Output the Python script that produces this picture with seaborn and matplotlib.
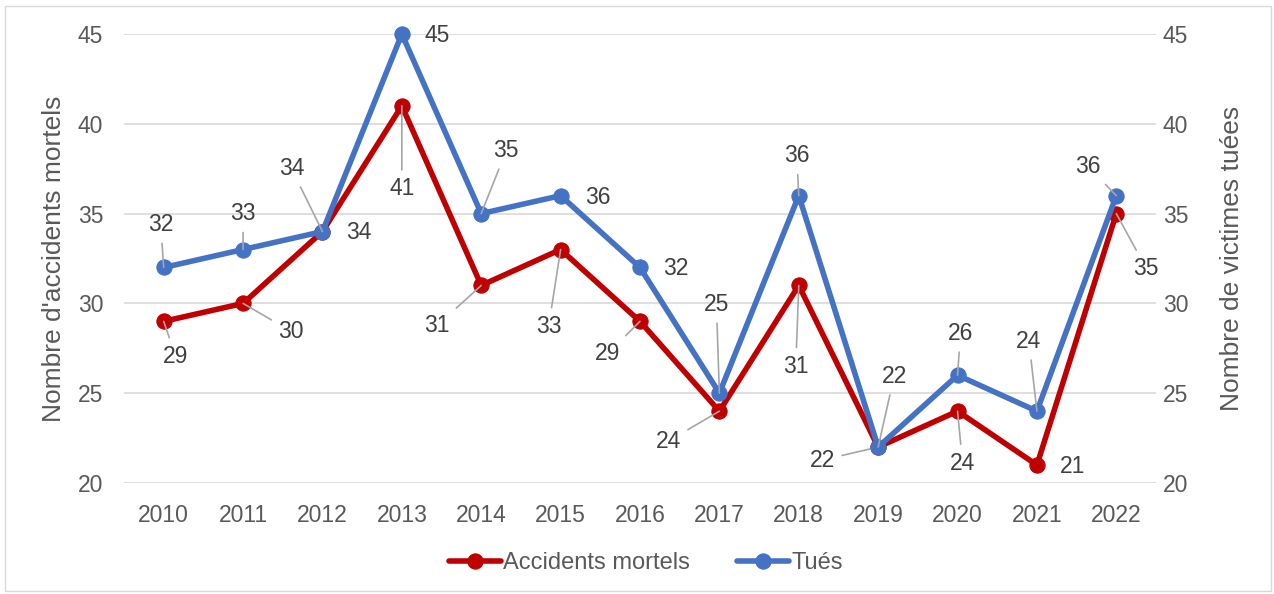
import numpy as np
import pandas as pd
import seaborn as sns
import matplotlib.pyplot as plt
from matplotlib.patches import Rectangle

#-------------- data
years = [2010, 2011, 2012, 2013, 2014, 2015, 2016, 2017, 2018, 2019, 2020, 2021, 2022]
accidents = [29, 30, 34, 41, 31, 33, 29, 24, 31, 22, 24, 21, 35]
tues = [32, 33, 34, 45, 35, 36, 32, 25, 36, 22, 26, 24, 36]
y_ticks = [20, 25, 30, 35, 40, 45]

# label offsets in pixels (dx, dy)
off_acc = [(12, -35), (48, -28), (36, -1), (0, -83), (-44, -40), (-12, -77), (-32, -32),
           (-51, -30), (-3, -81), (-56, -13), (5, -52), (36, -1), (30, -55)]
off_tues = [(-3, 43), (0, 36), (-31, 63), (35, -1), (25, 63), (37, -2), (36, -1),
            (-3, 89), (-2, 40), (16, 71), (3, 42), (-8, 70), (-28, 29)]

red = "#C00000"
blue = "#4472C4"
grey_txt = "#595959"

df = pd.DataFrame({"annee": years, "acc": accidents, "tues": tues})

sns.set_style("white")
plt.rcParams['font.family'] = ['Liberation Sans', 'DejaVu Sans']

fig = plt.figure(figsize=(12.74, 5.94), dpi=100)
ax = fig.add_axes([124 / 1274, 1 - 483 / 594, 1032 / 1274, 449 / 594])
ax2 = ax.twinx()

sns.lineplot(data=df, x="annee", y="acc", ax=ax, color=red, linewidth=4,
             marker="o", markersize=11, markeredgecolor=red, label="Accidents mortels",
             legend=False, clip_on=False)
sns.lineplot(data=df, x="annee", y="tues", ax=ax2, color=blue, linewidth=4,
             marker="o", markersize=11, markeredgecolor=blue, label="Tués",
             legend=False, clip_on=False)

for a in (ax, ax2):
    a.set_ylim(20, 45)
    a.set_yticks(y_ticks)
    a.set_xlim(years[0] - 0.5, years[-1] + 0.5)
    for s in a.spines.values():
        s.set_visible(False)
    a.tick_params(length=0, labelsize=16.5, labelcolor=grey_txt)

ax.set_xticks(years)
ax.set_xticklabels([str(y) for y in years])
ax.tick_params(axis="y", pad=15)
ax.tick_params(axis="x", pad=15)
ax2.tick_params(axis="y", pad=5)
ax.grid(axis="y", color="#D9D9D9", linewidth=1.2)
ax.set_xlabel("")
ax.set_ylabel("Nombre d'accidents mortels", fontsize=19, color=grey_txt)
ax2.set_ylabel("Nombre de victimes tuées", fontsize=19, color=grey_txt)
ax.yaxis.set_label_coords(-0.056, 0.5)
ax2.yaxis.set_label_coords(1.062, 0.5)

def labels(axis, values, offsets):
    for x, v, (dx, dy) in zip(years, values, offsets):
        props = None
        if abs(dy) > 5:
            props = dict(arrowstyle="-", color="#A6A6A6", lw=1.2, shrinkA=3, shrinkB=0)
        axis.annotate(str(v), xy=(x, v), xytext=(dx, dy), textcoords="offset pixels",
                      ha="center", va="center", fontsize=16.5, color="#404040",
                      arrowprops=props, zorder=5)

labels(ax, accidents, off_acc)
labels(ax2, tues, off_tues)

h1, l1 = ax.get_legend_handles_labels()
h2, l2 = ax2.get_legend_handles_labels()
fig.legend(h1 + h2, l1 + l2, loc="center", bbox_to_anchor=(0.507, 1 - 563 / 594), ncol=2,
           frameon=False, fontsize=17, labelcolor=grey_txt, handlelength=2.2,
           handletextpad=0.1, columnspacing=2.0)

fig.patches.append(Rectangle((5 / 1274, 3 / 594), 1 - 8 / 1274, 1 - 9 / 594,
                             transform=fig.transFigure, fill=False,
                             edgecolor="#D9D9D9", linewidth=1))

fig.savefig("out.png", dpi=100)
